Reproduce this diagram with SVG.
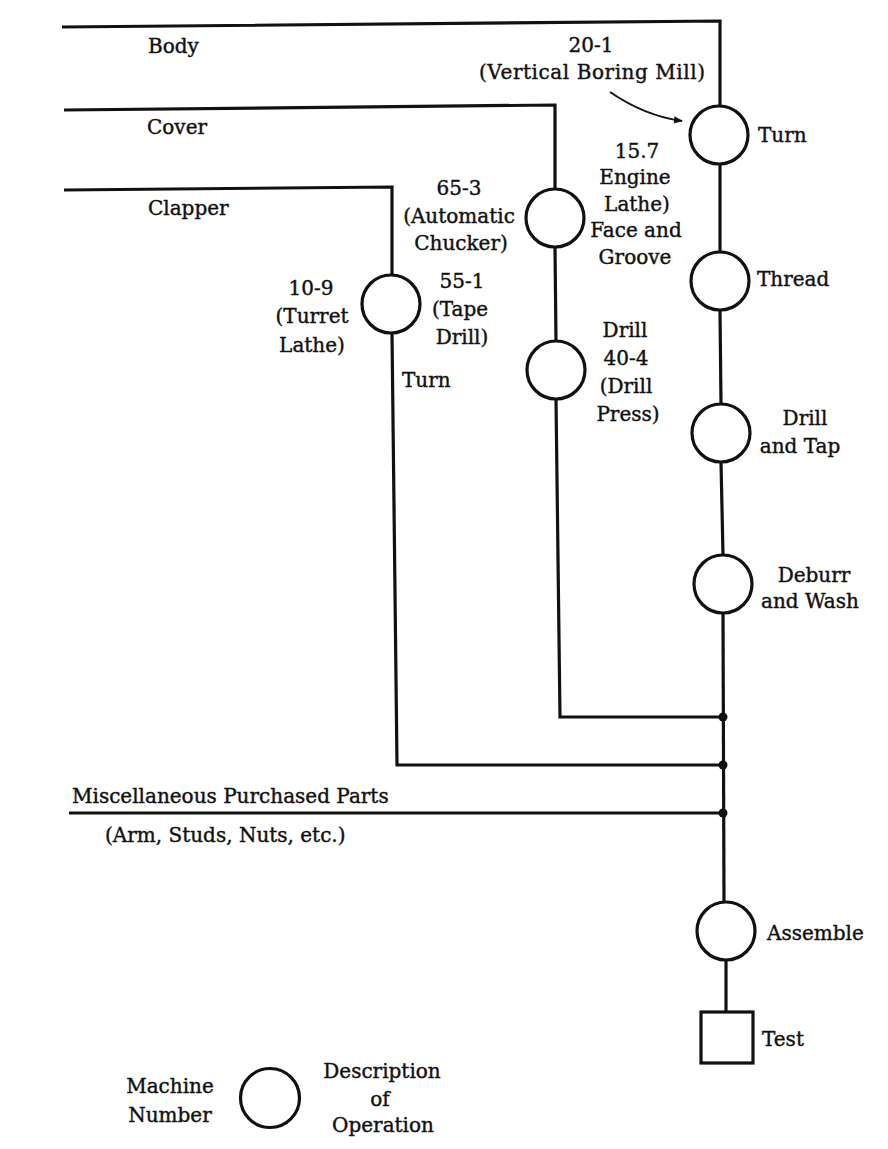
<svg xmlns="http://www.w3.org/2000/svg" width="888" height="1149" viewBox="0 0 888 1149">
<style>
text{font-family:"DejaVu Serif","Liberation Serif",serif;font-size:20px;fill:#111;stroke:#111;stroke-width:0.4;}
.m{text-anchor:middle;}
.ln{fill:none;stroke:#111;stroke-width:3.2;stroke-linejoin:miter;}
.op{fill:#fff;stroke:#111;stroke-width:3.2;}
.dot{fill:#111;}
</style>
<defs>
<marker id="ah" viewBox="0 0 10 10" refX="9" refY="5" markerWidth="9" markerHeight="9" markerUnits="userSpaceOnUse" orient="auto">
<path d="M0,1 L10,5 L0,9 Z" fill="#111"/>
</marker>
</defs>
<rect width="888" height="1149" fill="#fff"/>
<g id="connectors">
<path class="ln" d="M62,27 L720,21 L720,106"/>
<path class="ln" d="M64,110 L555,105 L555,190"/>
<path class="ln" d="M64,190 L392,187 L392,275"/>
<path class="ln" d="M720,164 L720,252"/>
<path class="ln" d="M720,310 L721,404"/>
<path class="ln" d="M721,462 L723,555"/>
<path class="ln" d="M723,613 L724,902"/>
<path class="ln" d="M726,960 L726,1012"/>
<path class="ln" d="M555,247 L556,341"/>
<path class="ln" d="M556,399 L560,717 L723,717"/>
<path class="ln" d="M392,333 L397,765 L723,765"/>
<path class="ln" d="M69,813 L723,813"/>
<circle class="dot" cx="723" cy="717" r="4.5"/>
<circle class="dot" cx="723" cy="765" r="4.5"/>
<circle class="dot" cx="723" cy="813" r="4.5"/>
<path d="M610,92 Q645,116 682,121" fill="none" stroke="#111" stroke-width="2" marker-end="url(#ah)"/>
</g>
<g id="inputs">
<text x="148" y="53">Body</text>
<text x="147" y="134">Cover</text>
<text x="148" y="215">Clapper</text>
<text x="72" y="803">Miscellaneous Purchased Parts</text>
<text x="105" y="842">(Arm, Studs, Nuts, etc.)</text>
</g>
<g id="body-turn">
<circle class="op" cx="719" cy="135" r="29"/>
<text class="m" x="591" y="52">20-1</text>
<text class="m" x="592" y="79" textLength="226">(Vertical Boring Mill)</text>
<text x="758" y="142">Turn</text>
</g>
<g id="body-thread">
<circle class="op" cx="720" cy="281" r="29"/>
<text x="757" y="286">Thread</text>
</g>
<g id="body-drill-tap">
<circle class="op" cx="721" cy="433" r="29"/>
<text class="m" x="805" y="425">Drill</text>
<text class="m" x="800" y="453">and Tap</text>
</g>
<g id="body-deburr">
<circle class="op" cx="723" cy="584" r="29"/>
<text class="m" x="814" y="582">Deburr</text>
<text class="m" x="810" y="608">and Wash</text>
</g>
<g id="cover-face">
<circle class="op" cx="555" cy="218" r="29"/>
<text class="m" x="459" y="195">65-3</text>
<text class="m" x="459" y="223">(Automatic</text>
<text class="m" x="461" y="250">Chucker)</text>
<text class="m" x="637" y="158">15.7</text>
<text class="m" x="635" y="184">Engine</text>
<text class="m" x="637" y="211">Lathe)</text>
<text class="m" x="636" y="237">Face and</text>
<text class="m" x="635" y="264">Groove</text>
</g>
<g id="cover-drill">
<circle class="op" cx="556" cy="370" r="29"/>
<text class="m" x="625" y="337">Drill</text>
<text class="m" x="626" y="365">40-4</text>
<text class="m" x="626" y="393">(Drill</text>
<text class="m" x="628" y="421">Press)</text>
</g>
<g id="clapper-turn">
<circle class="op" cx="391" cy="304" r="29"/>
<text class="m" x="311" y="295">10-9</text>
<text class="m" x="312" y="323">(Turret</text>
<text class="m" x="312" y="352">Lathe)</text>
<text class="m" x="462" y="288">55-1</text>
<text class="m" x="460" y="316">(Tape</text>
<text class="m" x="462" y="344">Drill)</text>
<text x="402" y="387">Turn</text>
</g>
<g id="assemble">
<circle class="op" cx="726" cy="931" r="29"/>
<text x="767" y="940">Assemble</text>
</g>
<g id="test">
<rect class="op" x="701" y="1012" width="52" height="51"/>
<text x="762" y="1046">Test</text>
</g>
<g id="legend">
<circle class="op" cx="270" cy="1098" r="29.5"/>
<text class="m" x="170" y="1093">Machine</text>
<text class="m" x="170" y="1122">Number</text>
<text class="m" x="382" y="1078">Description</text>
<text class="m" x="380" y="1106">of</text>
<text class="m" x="383" y="1132">Operation</text>
</g>
</svg>
